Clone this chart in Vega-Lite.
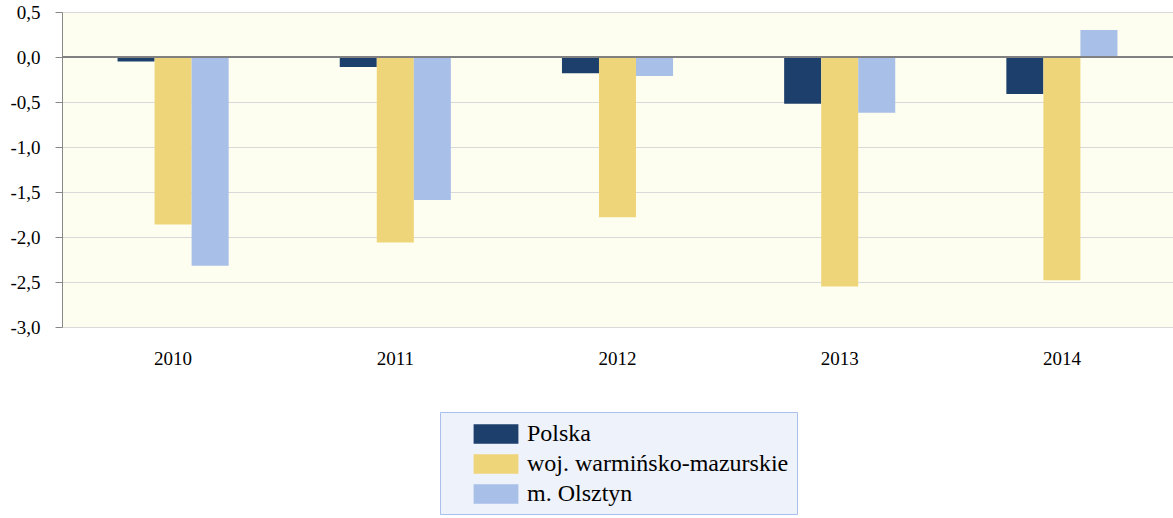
{
  "$schema": "https://vega.github.io/schema/vega-lite/v6.json",
  "width": 1111,
  "height": 315,
  "autosize": {"type": "none"},
  "padding": {"left": 62, "top": 12, "right": 0, "bottom": 191},
  "background": "white",
  "config": {
    "font": "Liberation Serif",
    "view": {"fill": "#fefef0", "stroke": null},
    "axis": {"labelFont": "Liberation Serif"}
  },
  "data": {
    "values": [
      {"year": "2010", "series": "Polska", "value": -0.05},
      {"year": "2010", "series": "woj. warmińsko-mazurskie", "value": -1.86},
      {"year": "2010", "series": "m. Olsztyn", "value": -2.32},
      {"year": "2011", "series": "Polska", "value": -0.11},
      {"year": "2011", "series": "woj. warmińsko-mazurskie", "value": -2.06},
      {"year": "2011", "series": "m. Olsztyn", "value": -1.59},
      {"year": "2012", "series": "Polska", "value": -0.18},
      {"year": "2012", "series": "woj. warmińsko-mazurskie", "value": -1.78},
      {"year": "2012", "series": "m. Olsztyn", "value": -0.21},
      {"year": "2013", "series": "Polska", "value": -0.52},
      {"year": "2013", "series": "woj. warmińsko-mazurskie", "value": -2.55},
      {"year": "2013", "series": "m. Olsztyn", "value": -0.62},
      {"year": "2014", "series": "Polska", "value": -0.41},
      {"year": "2014", "series": "woj. warmińsko-mazurskie", "value": -2.48},
      {"year": "2014", "series": "m. Olsztyn", "value": 0.3}
    ]
  },
  "layer": [
    {
      "mark": {"type": "bar"},
      "encoding": {
        "x": {
          "field": "year",
          "type": "nominal",
          "scale": {"paddingInner": 0.5, "paddingOuter": 0.25},
          "axis": {
            "title": null,
            "labelAngle": 0,
            "domain": false,
            "ticks": false,
            "labelFont": "Liberation Serif",
            "labelFontSize": 19,
            "labelColor": "black",
            "labelPadding": 22
          }
        },
        "xOffset": {
          "field": "series",
          "type": "nominal",
          "sort": ["Polska", "woj. warmińsko-mazurskie", "m. Olsztyn"]
        },
        "y": {
          "field": "value",
          "type": "quantitative",
          "scale": {"domain": [-3, 0.5], "nice": false, "zero": false},
          "axis": {
            "title": null,
            "values": [-3, -2.5, -2, -1.5, -1, -0.5, 0, 0.5],
            "labelExpr": "(datum.value < 0 ? '-' : '') + replace(format(abs(datum.value), '.1f'), '.', ',')",
            "grid": true,
            "gridColor": "#d9d9d9",
            "domainColor": "#888888",
            "tickColor": "#888888",
            "tickSize": 7,
            "labelFont": "Liberation Serif",
            "labelFontSize": 19,
            "labelColor": "black",
            "labelPadding": 15
          }
        },
        "color": {
          "field": "series",
          "type": "nominal",
          "sort": ["Polska", "woj. warmińsko-mazurskie", "m. Olsztyn"],
          "scale": {
            "domain": ["Polska", "woj. warmińsko-mazurskie", "m. Olsztyn"],
            "range": ["#1d3f6b", "#efd57a", "#a8bfe8"]
          },
          "legend": {
            "title": null,
            "orient": "none",
            "direction": "vertical",
            "legendX": 378,
            "legendY": 400,
            "fillColor": "#eef2fb",
            "strokeColor": "#a9c0ef",
            "padding": 8,
            "symbolType": "M-1.6,-0.7H1.6V0.7H-1.6Z",
            "symbolSize": 784,
            "symbolStrokeWidth": 0,
            "symbolOpacity": 1,
            "symbolOffset": 34,
            "labelFont": "Liberation Serif",
            "labelFontSize": 24,
            "labelColor": "black",
            "labelOffset": 17,
            "labelLimit": 400,
            "rowPadding": 4
          }
        }
      }
    },
    {
      "mark": {"type": "rule", "color": "#808080", "strokeWidth": 1},
      "encoding": {"y": {"datum": 0}}
    }
  ]
}
